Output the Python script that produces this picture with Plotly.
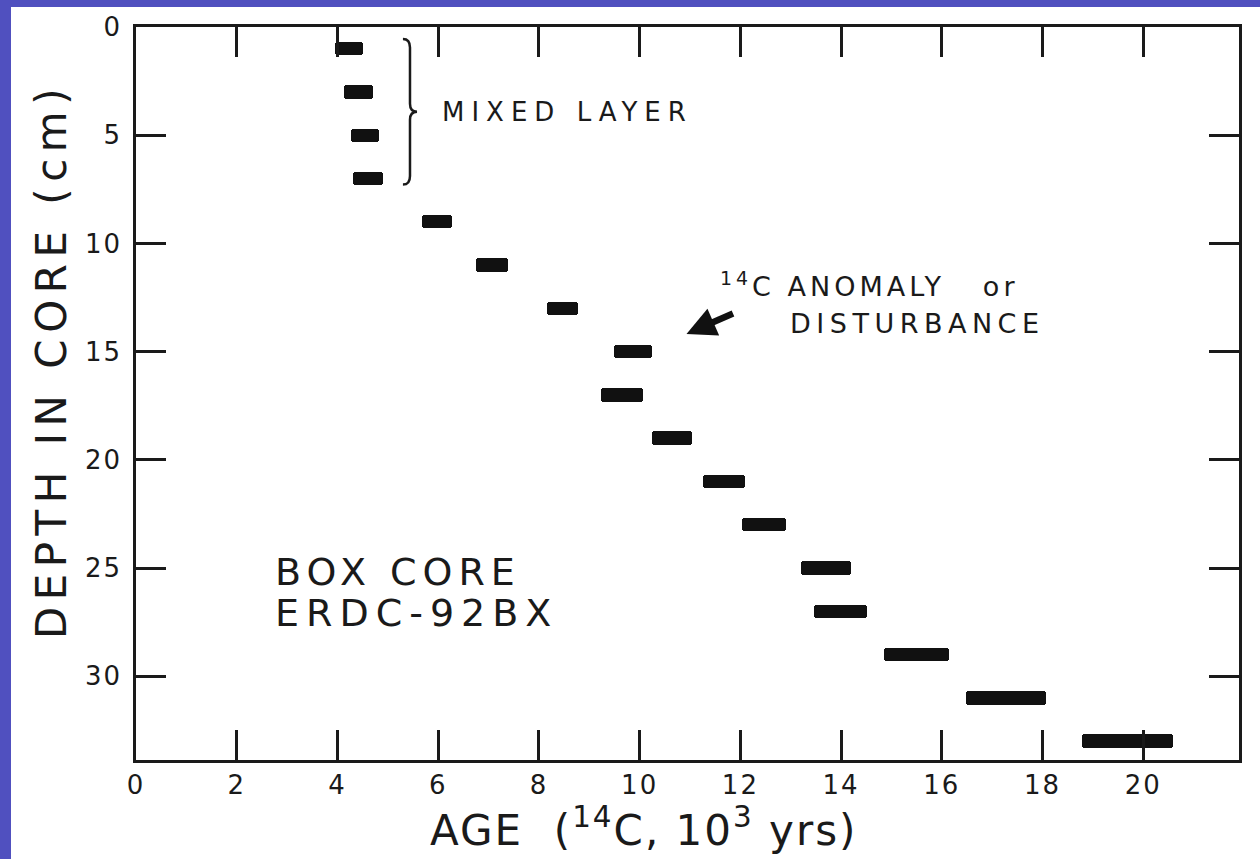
import plotly.graph_objects as go

# ---- data ----
depth_cm = [1, 3, 5, 7, 9, 11, 13, 15, 17, 19, 21, 23, 25, 27, 29, 31, 33]
age_min = [3.95, 4.12, 4.27, 4.31, 5.68, 6.75, 8.16, 9.49, 9.24, 10.25, 11.26,
           12.04, 13.20, 13.47, 14.86, 16.48, 18.79]
age_max = [4.50, 4.71, 4.83, 4.91, 6.28, 7.39, 8.78, 10.25, 10.07, 11.04, 12.10,
           12.91, 14.20, 14.52, 16.15, 18.07, 20.58]
mixed_layer_depths = [1, 3, 5, 7]
x_ticks = [0, 2, 4, 6, 8, 10, 12, 14, 16, 18, 20]
y_ticks = [0, 5, 10, 15, 20, 25, 30]

FONT = "DejaVu Sans"
INK = "#1a1a1a"
BLUE = "#5050bf"
W, H = 1260, 859
ML, MR, MT, MB = 136, 21, 25, 99

widths = [b - a for a, b in zip(age_min, age_max)]
ls = "letter-spacing:"


def spaced(v):
    return f"<span style='{ls}2px'>{v}</span>"


fig = go.Figure()
fig.add_trace(go.Bar(
    orientation="h",
    y=depth_cm,
    x=widths,
    base=age_min,
    width=0.62,
    marker=dict(color="#111111", line=dict(width=0), cornerradius=3),
    hoverinfo="skip",
    showlegend=False,
))

axis_common = dict(
    showline=True, linecolor=INK, linewidth=2.5, mirror="ticks",
    ticks="inside", tickcolor=INK, tickwidth=2.5,
    showgrid=False, zeroline=False,
    tickfont=dict(family=FONT, size=26, color=INK),
)

fig.update_xaxes(range=[0, 21.9], tickvals=x_ticks,
                 ticktext=[spaced(v) for v in x_ticks], ticklen=30, **axis_common)
fig.update_yaxes(range=[33.87, 0], tickvals=y_ticks,
                 ticktext=[spaced(v) for v in y_ticks], ticklen=30, ticklabelstandoff=6,
                 **axis_common)

# white slide panel over blue background
pw = W - ML - MR
ph = H - MT - MB
fig.add_shape(type="rect", xref="paper", yref="paper", layer="below",
              x0=(11 - ML) / pw, x1=(W + 20 - ML) / pw,
              y0=-(MB + 20) / ph, y1=1 + (MT - 5) / ph,
              fillcolor="white", line=dict(width=0))

# curly brace for the mixed layer
top = min(mixed_layer_depths) - 0.45
bot = max(mixed_layer_depths) + 0.28
mid = (top + bot) / 2
xa, xb, xc = 5.30, 5.44, 5.58
brace = (f"M {xa},{top} Q {xb},{top} {xb},{top+0.4} L {xb},{mid-0.37} "
         f"Q {xb},{mid} {xc},{mid} Q {xb},{mid} {xb},{mid+0.37} "
         f"L {xb},{bot-0.4} Q {xb},{bot} {xa},{bot}")
fig.add_shape(type="path", xref="x", yref="y", path=brace,
              line=dict(color=INK, width=2.5))

annos = [
    dict(x=6.03, y=mid, xref="x", yref="y", xanchor="left", yanchor="middle",
         text=f"<span style='{ls}7px'>MIXED LAYER</span>",
         font=dict(family=FONT, size=26, color=INK), showarrow=False),
    dict(x=11.56, y=11.9, xref="x", yref="y", xanchor="left", yanchor="middle",
         text=f"<span style='{ls}4px'><sup>14</sup>C ANOMALY   or</span>",
         font=dict(family=FONT, size=27, color=INK), showarrow=False),
    dict(x=12.95, y=13.7, xref="x", yref="y", xanchor="left", yanchor="middle",
         text=f"<span style='{ls}5.5px'>DISTURBANCE</span>",
         font=dict(family=FONT, size=27, color=INK), showarrow=False),
    dict(x=10.93, y=14.18, xref="x", yref="y", ax=48, ay=-21,
         text="", showarrow=True, arrowhead=2, arrowsize=0.9, arrowwidth=6.5,
         arrowcolor="#111111"),
    dict(x=2.72, y=25.2, xref="x", yref="y", xanchor="left", yanchor="middle",
         text=f"<span style='{ls}6px'>BOX CORE</span>",
         font=dict(family=FONT, size=38, color=INK), showarrow=False),
    dict(x=2.72, y=27.1, xref="x", yref="y", xanchor="left", yanchor="middle",
         text=f"<span style='{ls}7px'>ERDC-92BX</span>",
         font=dict(family=FONT, size=38, color=INK), showarrow=False),
    # axis titles
    dict(x=(644 - ML) / pw, y=-(828 - (H - MB)) / ph, xref="paper", yref="paper",
         xanchor="center", yanchor="middle",
         text=f"<span style='{ls}2px'>AGE  (<sup>14</sup>C, 10<sup>3</sup> yrs)</span>",
         font=dict(family=FONT, size=42, color=INK), showarrow=False),
    dict(x=(51 - ML) / pw, y=1 - (360 - MT) / ph, xref="paper", yref="paper",
         xanchor="center", yanchor="middle", textangle=-90,
         text=f"<span style='{ls}6.5px'>DEPTH IN CORE (cm)</span>",
         font=dict(family=FONT, size=42, color=INK), showarrow=False),
]

fig.update_layout(
    width=W, height=H,
    margin=dict(l=ML, r=MR, t=MT, b=MB, pad=0),
    paper_bgcolor=BLUE,
    plot_bgcolor="white",
    annotations=annos,
    bargap=0,
)

fig.write_html(
    "out.html",
    config={"displayModeBar": False},
    post_script=f"document.body.style.margin='0';document.body.style.background='{BLUE}';",
)
